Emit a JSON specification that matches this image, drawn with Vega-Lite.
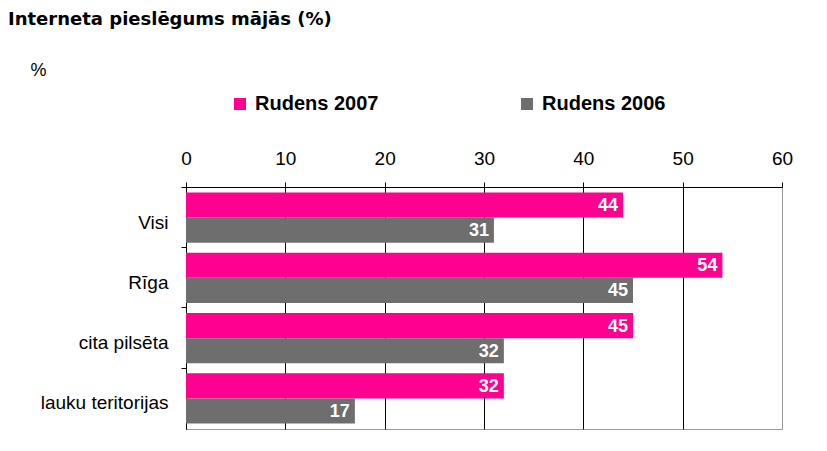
{
  "$schema": "https://vega.github.io/schema/vega-lite/v6.json",
  "width": 596,
  "height": 242,
  "autosize": {"type": "none"},
  "padding": {"left": 186, "top": 187, "right": 45, "bottom": 22},
  "background": "white",
  "title": {
    "text": "Interneta pieslēgums mājās (%)",
    "anchor": "start",
    "frame": "group",
    "font": "DejaVu Sans",
    "fontSize": 18,
    "fontWeight": "bold",
    "color": "black",
    "dx": -178,
    "dy": -28
  },
  "data": {
    "values": [
      {"cat": "Visi", "series": "Rudens 2007", "value": 44},
      {"cat": "Visi", "series": "Rudens 2006", "value": 31},
      {"cat": "Rīga", "series": "Rudens 2007", "value": 54},
      {"cat": "Rīga", "series": "Rudens 2006", "value": 45},
      {"cat": "cita pilsēta", "series": "Rudens 2007", "value": 45},
      {"cat": "cita pilsēta", "series": "Rudens 2006", "value": 32},
      {"cat": "lauku teritorijas", "series": "Rudens 2007", "value": 32},
      {"cat": "lauku teritorijas", "series": "Rudens 2006", "value": 17}
    ]
  },
  "encoding": {
    "y": {
      "field": "cat",
      "type": "nominal",
      "sort": ["Visi", "Rīga", "cita pilsēta", "lauku teritorijas"],
      "scale": {"paddingInner": 0.165, "paddingOuter": 0.09},
      "axis": {
        "title": "%",
        "titleAngle": 0,
        "titleX": -148,
        "titleY": -117,
        "titleAlign": "center",
        "titleBaseline": "middle",
        "titleFont": "Liberation Sans",
        "titleFontSize": 18,
        "titleFontWeight": "normal",
        "titleColor": "black",
        "bandPosition": -0.1,
        "labelOffset": 5,
        "labelFont": "Liberation Sans",
        "labelFontSize": 19,
        "labelColor": "black",
        "labelPadding": 13,
        "tickSize": 5,
        "tickColor": "black",
        "domainColor": "black",
        "grid": false
      }
    },
    "yOffset": {
      "field": "series",
      "type": "nominal",
      "sort": ["Rudens 2007", "Rudens 2006"],
      "scale": {"paddingInner": 0, "paddingOuter": 0}
    },
    "x": {
      "field": "value",
      "type": "quantitative",
      "scale": {"domain": [0, 60], "nice": false},
      "axis": {
        "orient": "top",
        "title": null,
        "values": [0, 10, 20, 30, 40, 50, 60],
        "grid": true,
        "gridColor": {"condition": {"test": "datum.value == 60", "value": "#999999"}, "value": "black"},
        "gridOpacity": 1,
        "labelFont": "Liberation Sans",
        "labelFontSize": 19,
        "labelColor": "black",
        "labelPadding": 14,
        "tickSize": 5,
        "tickColor": "black",
        "domainColor": "black",
        "labelFlush": false
      }
    }
  },
  "layer": [
    {
      "mark": {"type": "bar"},
      "encoding": {
        "color": {
          "field": "series",
          "type": "nominal",
          "scale": {"domain": ["Rudens 2007", "Rudens 2006"], "range": ["#ff0090", "#6e6e6e"]},
          "legend": {
            "title": null,
            "orient": "none",
            "direction": "horizontal",
            "columns": 2,
            "legendX": 44,
            "legendY": -93,
            "symbolType": "square",
            "symbolSize": 144,
            "symbolStrokeWidth": 0,
            "symbolOpacity": 1,
            "labelFont": "Liberation Sans",
            "labelFontSize": 20,
            "labelFontWeight": "bold",
            "labelColor": "black",
            "labelOffset": 5,
            "columnPadding": 138
          }
        }
      }
    },
    {
      "mark": {
        "type": "text",
        "align": "right",
        "baseline": "middle",
        "dx": -5,
        "dy": 1,
        "color": "white",
        "font": "Liberation Sans",
        "fontSize": 18,
        "fontWeight": "bold"
      },
      "encoding": {"text": {"field": "value", "type": "quantitative"}}
    }
  ],
  "config": {
    "view": {"stroke": "#999999", "strokeWidth": 1}
  }
}
